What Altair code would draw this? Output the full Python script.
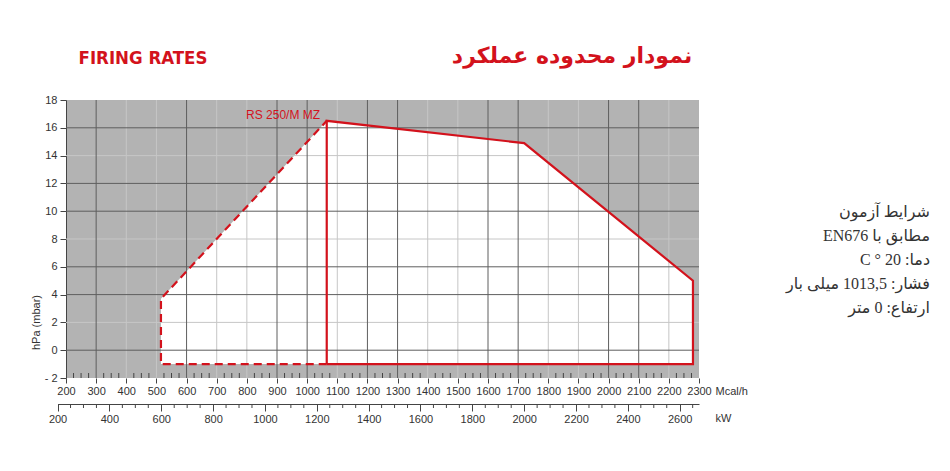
import altair as alt
import pandas as pd

# ---------------- data ----------------
# white working-field envelope (Mcal/h , hPa)
env_x = [515, 1065, 1720, 2280]
env_top = [3.7, 16.5, 14.9, 5.0]
env_bottom = [-1.0, -1.0, -1.0, -1.0]

# solid red outline
solid_x = [1065, 1065, 1720, 2280, 2280, 1065]
solid_y = [-1.0, 16.5, 14.9, 5.0, -1.0, -1.0]
# dashed red outline
dash_x = [1065, 515, 515, 1065]
dash_y = [-1.0, -1.0, 3.7, 16.5]

x_ticks = list(range(200, 2301, 100))
y_ticks = list(range(-2, 19, 2))
grid_x_dark = [300, 600, 900, 1000, 1200, 1300, 1600, 1700, 2000, 2100]
grid_x_light = [400, 500, 700, 800, 1100, 1400, 1500, 1800, 1900, 2200]
grid_y_dark = [0, 4, 6, 10, 12, 16]
grid_y_light = [2, 8, 14]
mcal_minor = [v for v in range(225, 2300, 25) if v % 100]
kw_major = list(range(200, 2601, 200))
kw_minor = [v for v in range(250, 2651, 50) if v % 200]

model_label = "RS 250/M MZ"
title_left = "FIRING RATES"
title_right = "نمودار محدوده عملکرد"
info_text = [
    "شرایط آزمون",
    "مطابق با EN676",
    "دما: 20 ° C",
    "فشار: 1013,5 میلی بار",
    "ارتفاع: 0 متر",
]
# right-to-left embedding for each Persian line
info_lines = ["\u202b" + s + "\u202c" for s in info_text]

# ---------------- layout ----------------
W, H = 633, 278
RED = "#d3121c"
AXC = "#333333"
SANS = "Liberation Sans, Arial, Helvetica, sans-serif"

X = alt.X(
    "x:Q",
    scale=alt.Scale(domain=[200, 2300], nice=False, zero=False),
    axis=alt.Axis(
        values=x_ticks, format="d", grid=False, domain=False, tickSize=5, tickColor="#444",
        labelFont=SANS, labelFontSize=11, labelColor=AXC, labelPadding=2,
        labelFlush=False, labelOverlap=False,
        title="Mcal/h", titleFont=SANS, titleFontSize=11, titleFontWeight="normal",
        titleColor=AXC, titleX=649, titleY=13, titleAlign="left", titleBaseline="middle",
    ),
)
Y = alt.Y(
    "y:Q",
    scale=alt.Scale(domain=[-2, 18], nice=False, zero=False),
    axis=alt.Axis(
        values=y_ticks, grid=False, domainColor="#444", tickColor="#444", tickSize=6,
        labelFont=SANS, labelFontSize=11, labelColor=AXC, labelPadding=3,
        labelFlush=False, labelOverlap=False,
        labelExpr="datum.value < 0 ? '- ' + abs(datum.value) : datum.label",
        title="hPa (mbar)", titleFont=SANS, titleFontSize=11, titleFontWeight="normal",
        titleColor=AXC, titleX=-30, titleY=222, titleAlign="center", titleBaseline="middle",
    ),
)

one = pd.DataFrame({"k": [0]})

env_df = pd.DataFrame({"x": env_x, "y": env_top, "y2": env_bottom})
area = alt.Chart(env_df).mark_area(color="white", opacity=1).encode(x=X, y=Y, y2="y2:Q")

def vgrid(vals, color):
    return alt.Chart(pd.DataFrame({"x": vals})).mark_rule(color=color, strokeWidth=1).encode(x=X)

def hgrid(vals, color):
    return alt.Chart(pd.DataFrame({"y": vals})).mark_rule(color=color, strokeWidth=1).encode(y=Y)

minor = alt.Chart(pd.DataFrame({"x": mcal_minor})).mark_rule(color="#444", strokeWidth=1).encode(
    x=X, y=alt.value(H - 5), y2=alt.value(H)
)

solid_df = pd.DataFrame({"x": solid_x, "y": solid_y, "o": list(range(len(solid_x)))})
dash_df = pd.DataFrame({"x": dash_x, "y": dash_y, "o": list(range(len(dash_x)))})
solid = alt.Chart(solid_df).mark_line(color=RED, strokeWidth=2.2).encode(x=X, y=Y, order="o:Q")
dashed = alt.Chart(dash_df).mark_line(color=RED, strokeWidth=2.2, strokeDash=[8, 5]).encode(
    x=X, y=Y, order="o:Q"
)

lab_df = pd.DataFrame({"x": [1043], "y": [16.9], "t": [model_label]})
lab = alt.Chart(lab_df).mark_text(
    color=RED, font=SANS, fontSize=12, align="right", baseline="middle"
).encode(x=X, y=Y, text="t:N")

t_left = alt.Chart(one).mark_text(
    text=title_left, color=RED, fontSize=18.5, fontWeight="bold",
    font="Liberation Sans Narrow, DejaVu Sans Condensed, Arial Narrow, Liberation Sans, sans-serif",
    align="center", baseline="middle",
).encode(x=alt.value(77), y=alt.value(-42))

t_right = alt.Chart(one).mark_text(
    text=title_right, color=RED, fontSize=22, fontWeight="bold",
    font="DejaVu Sans, sans-serif", align="center", baseline="middle",
).encode(x=alt.value(506), y=alt.value(-44))

info = alt.Chart(one).mark_text(
    text=info_lines, color="#333", fontSize=16, lineHeight=24,
    font="Liberation Serif, DejaVu Sans, serif", align="right", baseline="top",
).encode(x=alt.value(864), y=alt.value(104))

main = alt.layer(
    area,
    vgrid(grid_x_light, "#c6c6c6"), hgrid(grid_y_light, "#c6c6c6"),
    vgrid(grid_x_dark, "#5e5e5e"), hgrid(grid_y_dark, "#5e5e5e"),
    minor, dashed, solid, lab, t_left, t_right, info,
)

# kW secondary axis (1 kW = 0.86 Mcal/h)
px_lo = (200 * 0.86 - 200) / 2100 * W
kw_df = pd.DataFrame({"kw": kw_minor})
kw_layer = alt.Chart(kw_df).mark_rule(color="#444", strokeWidth=1).encode(
    x=alt.X(
        "kw:Q",
        scale=alt.Scale(domain=[200, 2300 / 0.86], range=[px_lo, W], nice=False, zero=False),
        axis=alt.Axis(
            orient="bottom", offset=26, values=kw_major, format="d", grid=False,
            domainColor="#444", tickColor="#444", tickSize=7,
            labelFont=SANS, labelFontSize=11, labelColor=AXC, labelPadding=2,
            labelFlush=False, labelOverlap=False,
            title="kW", titleFont=SANS, titleFontSize=11, titleFontWeight="normal",
            titleColor=AXC, titleX=649, titleY=14, titleAlign="left", titleBaseline="middle",
        ),
    ),
    y=alt.value(H + 26),
    y2=alt.value(H + 30),
)

chart = (
    alt.layer(main, kw_layer)
    .resolve_scale(x="independent")
    .properties(
        width=W, height=H,
        padding={"left": 58, "top": 92, "right": 243, "bottom": 85},
        autosize=alt.AutoSizeParams(type="none"),
        background="white",
    )
    .configure_view(fill="#b3b3b3", strokeWidth=0)
)

chart.save("out.html", embed_options={"renderer": "svg", "actions": False})
